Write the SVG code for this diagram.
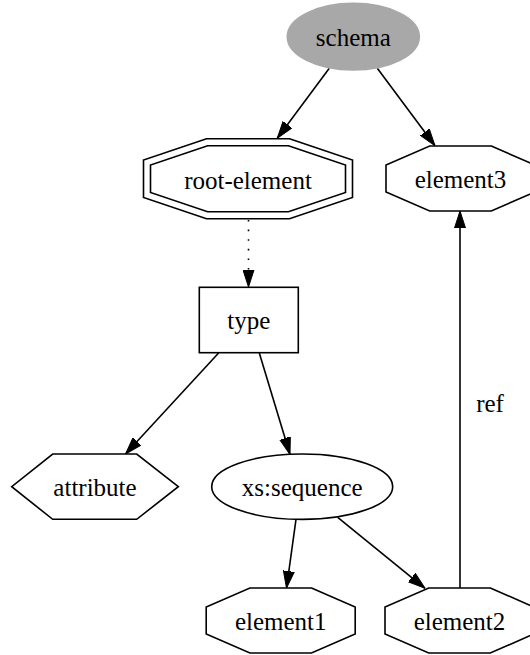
<svg xmlns="http://www.w3.org/2000/svg" width="530" height="655" viewBox="0 0 530 655">
<defs>
<marker id="ah" viewBox="0 0 17 12" refX="17" refY="6" markerWidth="17" markerHeight="12" markerUnits="userSpaceOnUse" orient="auto">
<path d="M0,0.5 L17,6 L0,11.5 z" fill="#000" stroke="#000" stroke-width="1"/>
</marker>
<style>
.n{fill:#fff;stroke:#000;stroke-width:1.6}
.t{font-family:"Liberation Serif","Times New Roman",serif;font-size:25px;fill:#000;text-anchor:middle}
.e{fill:none;stroke:#000;stroke-width:1.6;marker-end:url(#ah)}
</style>
</defs>
<rect width="530" height="655" fill="#fff"/>
<g id="edges">
<path class="e" d="M329.3,68.3 L277.3,138.3"/>
<path class="e" d="M377.3,68.3 L435,145.7"/>
<path class="e" d="M248.5,220 L248.5,287" stroke-dasharray="1.6,8"/>
<path class="e" d="M218.6,353 L125.5,454"/>
<path class="e" d="M259.3,353 L290,454.5"/>
<path class="e" d="M296,519.3 L286.5,588"/>
<path class="e" d="M337.7,517.3 L425,588.3"/>
<path class="e" d="M460,588 L460,211"/>
<text class="t" x="490" y="411.7">ref</text>
</g>
<g id="schema">
<ellipse cx="353.3" cy="36.7" rx="66" ry="33.3" fill="#a8a8a8" stroke="#a8a8a8" stroke-width="1.6"/>
<text class="t" x="353.3" y="46">schema</text>
</g>
<g id="root-element">
<polygon class="n" points="289.5,138.7 352.5,160 352.5,197.4 289.5,218.7 206.5,218.7 143.5,197.4 143.5,160 206.5,138.7"/>
<polygon class="n" points="288.4,145.7 345.5,165 345.5,192.4 288.4,211.7 207.6,211.7 150.5,192.4 150.5,165 207.6,145.7"/>
<text class="t" x="248" y="188.5">root-element</text>
</g>
<g id="element3">
<polygon class="n" points="491.3,146 535,165 535,192 491.3,211 429.7,211 386,192 386,165 429.7,146"/>
<text class="t" x="460.5" y="187.5">element3</text>
</g>
<g id="type">
<rect class="n" x="199.3" y="287.3" width="99" height="65.4"/>
<text class="t" x="248.8" y="329">type</text>
</g>
<g id="attribute">
<polygon class="n" points="178.3,486.7 136.7,454 52.7,454 11.7,486.7 52.7,519.3 136.7,519.3"/>
<text class="t" x="95" y="495.5">attribute</text>
</g>
<g id="xs-sequence">
<ellipse class="n" cx="302.2" cy="486.7" rx="90.5" ry="32.7"/>
<text class="t" x="302.2" y="495.5">xs:sequence</text>
</g>
<g id="element1">
<polygon class="n" points="311.5,588 355.2,607 355.2,634 311.5,653 249.9,653 206.2,634 206.2,607 249.9,588"/>
<text class="t" x="280.7" y="629.5">element1</text>
</g>
<g id="element2">
<polygon class="n" points="490.3,588 534,607 534,634 490.3,653 428.7,653 385,634 385,607 428.7,588"/>
<text class="t" x="459.5" y="629.5">element2</text>
</g>
</svg>
